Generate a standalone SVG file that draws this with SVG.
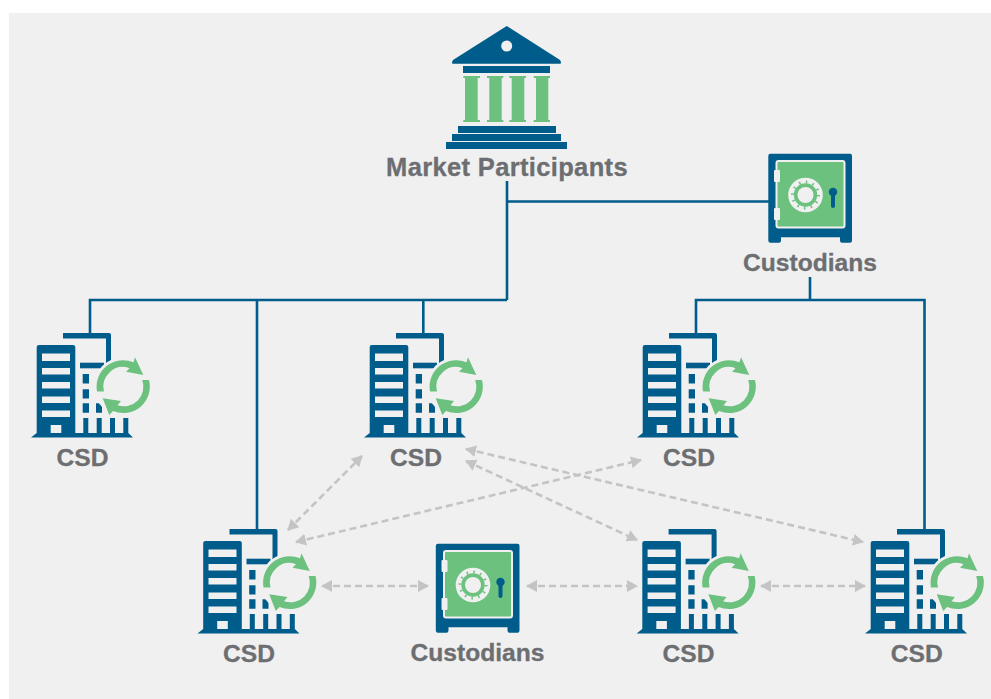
<svg xmlns="http://www.w3.org/2000/svg" width="991" height="699" viewBox="0 0 991 699">
<style>
.b{fill:#005c8a}.g{fill:#6cc17f}.w{fill:#f0f0f0}
.t{font-family:"Liberation Sans",Arial,sans-serif;font-weight:700;font-size:24.6px;fill:#6d6e71;stroke:#6d6e71;stroke-width:.3;text-anchor:middle}
.c{fill:none;stroke:#005c8a;stroke-width:2.6}
.d{fill:none;stroke:#c4c4c4;stroke-width:2.6;stroke-dasharray:7 4;marker-start:url(#a);marker-end:url(#a)}
</style>
<defs>
<marker id="a" markerUnits="userSpaceOnUse" markerWidth="12" markerHeight="14" refX="10" refY="7" orient="auto-start-reverse"><path d="M0 1L11 7L0 13Z" fill="#c4c4c4"/></marker>
<g id="csd">
<path class="b" d="M63 333H109Q111 333 111 335V364H106V338.500H63Z"/>
<path class="b" d="M80 362.700H104V368.300H80Z"/>
<path class="b" d="M39 345H73Q75.300 345 75.300 347V433H83.300V418H88.300V433H96.700V418H101.700V433H110V418H115V433H123.300V418H128.300V433L133 437.500H31L36.700 433V347Q36.700 345 39 345Z"/>
<path class="w" d="M42 353.500H70V361H42ZM42 368H70V374.500H42ZM42 382H70V388.500H42ZM42 396.500H70V403H42ZM42 410.500H70V417H42ZM50.700 425H61.300V433H50.700Z"/>
<path class="b" d="M82.700 374H89V383.500H82.700ZM82.700 389.300H89V398.500H82.700ZM82.700 403.300H89V412.700H82.700ZM96 403.300H102V412.700H96Z"/>
<circle class="w" cx="123.300" cy="386.700" r="29.500"/>
<path class="g" d="M97 391.500A26.500 26.500 0 0 1 133.500 362.300L135 357.300L143.300 375L126 371.700L129.500 368.200A19.500 19.500 0 0 0 104 391.500Z"/>
<path class="g" d="M149 380A26.500 26.500 0 0 1 113 411L109.300 415L102.700 398.300L121 401L117.500 405.200A19.500 19.500 0 0 0 142.200 380Z"/>
</g>
<g id="safe">
<path class="b" d="M770.500 153.700H850Q852 153.700 852 156V240.500Q852 242.700 850 242.700H842Q840 242.700 840 240.500V237.300H781V240.500Q781 242.700 779 242.700H770.500Q768.300 242.700 768.300 240.500V156Q768.300 153.700 770.500 153.700Z"/>
<rect x="776.500" y="161" width="68" height="66.500" rx="2" class="g" stroke="#f0f0f0" stroke-width="2"/>
<rect x="774" y="170" width="6" height="12" rx="1" class="w"/>
<rect x="774" y="208" width="6" height="12" rx="1" class="w"/>
<circle cx="805.500" cy="195" r="14.500" fill="none" stroke="#f0f0f0" stroke-width="5.600"/>
<circle cx="805.500" cy="195" r="13" fill="none" stroke="#6cc17f" stroke-width="3" stroke-dasharray="1.500 5.300"/>
<circle cx="805.500" cy="195" r="8" class="w"/>
<circle cx="833" cy="192" r="4.200" class="b"/>
<rect x="831" y="192" width="4" height="16" rx="2" class="b"/>
</g>
</defs>
<rect width="991" height="699" fill="#fff"/>
<rect x="9" y="13" width="982" height="686" fill="#f0f0f0"/>
<g id="connectors">
<path class="c" d="M507 181V300M507 201.500H769M90 333V300H507M257 300V530M423.300 300V333M810 277V300M696 333V300H924.500V530"/>
<path class="d" d="M288 530L362 456"/>
<path class="d" d="M296 542L641 460"/>
<path class="d" d="M466 449L863 542"/>
<path class="d" d="M466 461L637 540"/>
<path class="d" d="M322 586H428"/>
<path class="d" d="M527 586H637"/>
<path class="d" d="M761 586H865"/>
</g>
<g id="market-participants">
<path class="b" d="M506.700 26L560 60Q562 63.700 560 63.700H453Q451 63.700 453 60Z"/>
<circle cx="506.700" cy="46" r="5.500" class="w"/>
<rect x="463" y="66" width="87" height="7" class="b"/>
<path class="g" d="M463.300 76H480V78H477.700V120H480V122H463.300V120H465V78H463.300ZM487 76H503.300V78H501.700V120H503.300V122H487V120H489.300V78H487ZM509.300 76H526V78H524.300V120H526V122H509.300V120H511.700V78H509.300ZM533.700 76H550V78H548.300V120H550V122H533.700V120H536V78H533.700Z"/>
<rect x="458" y="126" width="98" height="7" class="b"/>
<rect x="452" y="134" width="109" height="7" class="b"/>
<rect x="446" y="142" width="121" height="7" class="b"/>
<text class="t" x="507" y="175.500" style="font-size:25.5px" letter-spacing=".35">Market Participants</text>
</g>
<g id="custodians-top"><use href="#safe"/><text class="t" x="810" y="270.500">Custodians</text></g>
<g id="csd-1"><use href="#csd"/><text class="t" x="82.500" y="465.500">CSD</text></g>
<g id="csd-2"><use href="#csd" x="333"/><text class="t" x="416" y="465.500">CSD</text></g>
<g id="csd-3"><use href="#csd" x="606"/><text class="t" x="689" y="465.500">CSD</text></g>
<g id="csd-4"><use href="#csd" x="166.500" y="196"/><text class="t" x="249" y="661.500">CSD</text></g>
<g id="custodians-bottom"><use href="#safe" x="-332.500" y="390"/><text class="t" x="477.500" y="660.500">Custodians</text></g>
<g id="csd-5"><use href="#csd" x="605.600" y="196"/><text class="t" x="688.500" y="661.500">CSD</text></g>
<g id="csd-6"><use href="#csd" x="834" y="196"/><text class="t" x="916.700" y="661.500">CSD</text></g>
</svg>
